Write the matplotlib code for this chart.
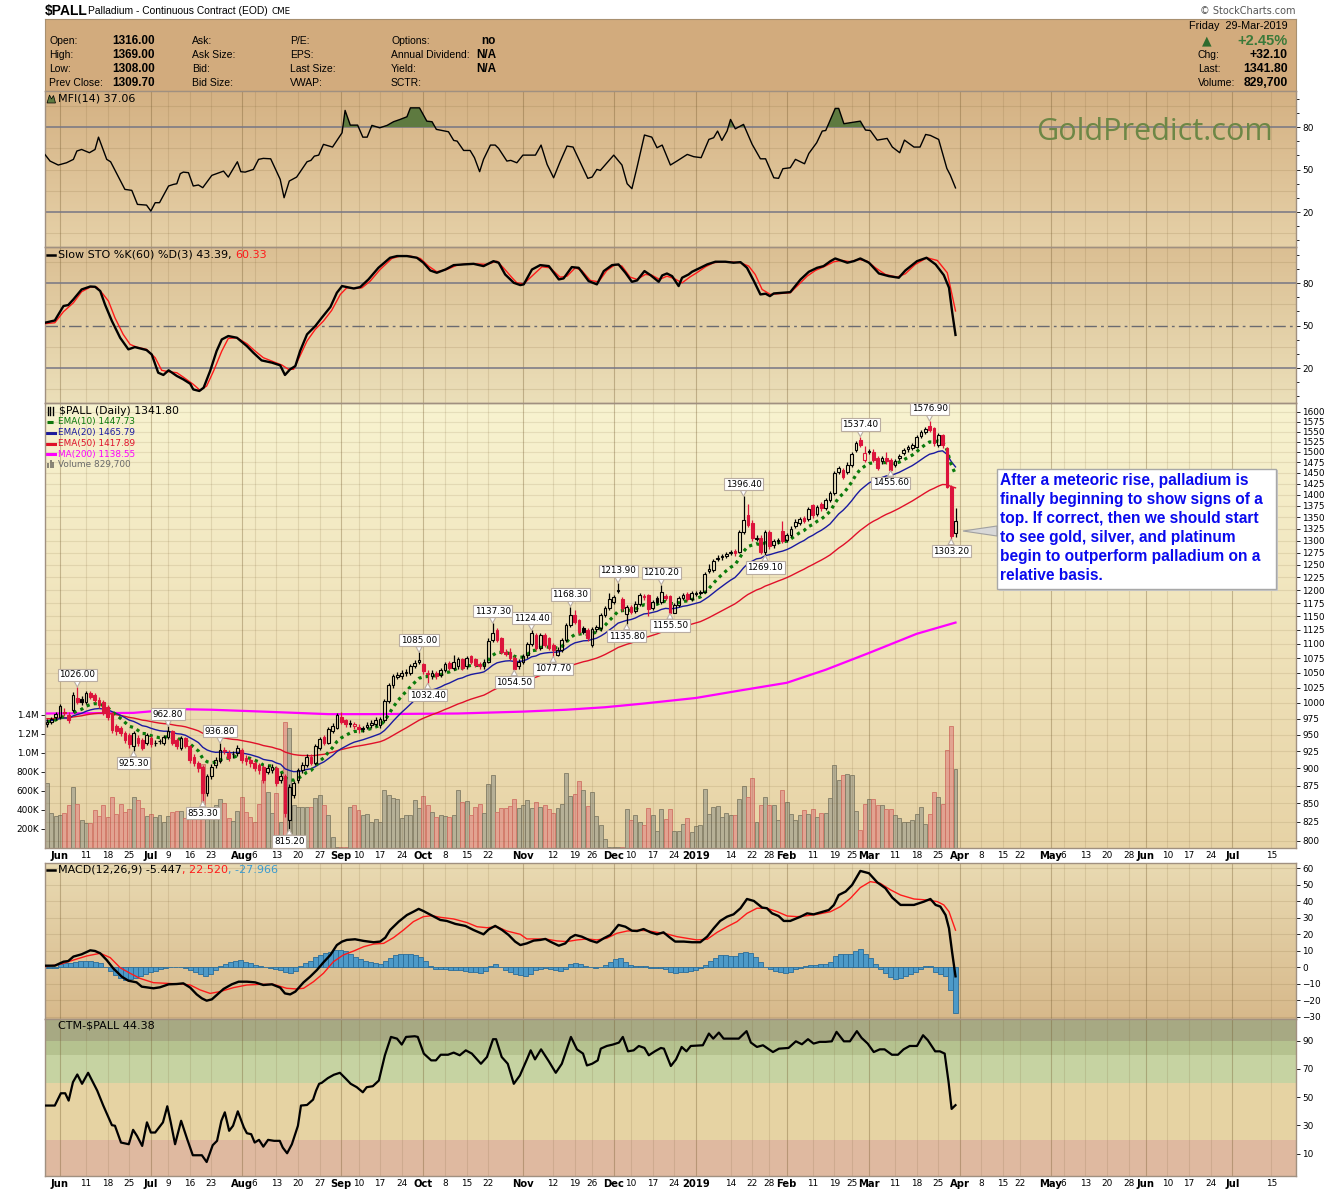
import numpy as np
import pandas as pd
import matplotlib
matplotlib.use("Agg")
import matplotlib.pyplot as plt
from matplotlib.lines import Line2D
from matplotlib.patches import Rectangle, Polygon
from matplotlib.colors import LinearSegmentedColormap

plt.rcParams["font.family"] = ["DejaVu Sans"]

W, H = 1340, 1192

# ---------------- data ----------------
holidays = ["2018-07-04", "2018-09-03", "2018-11-22", "2018-12-05", "2018-12-25",
            "2019-01-01", "2019-01-21", "2019-02-18", "2019-04-19", "2019-05-27",
            "2019-07-04"]

opens = [966, 970, 978, 978, 986, 981, 989, 1008, 1006, 1002,
         1016, 1013, 1005, 1002, 994, 984, 963, 960, 952, 950,
         932, 945, 942, 937, 945, 937, 940, 937, 947, 955,
         942, 930, 945, 932, 917, 907, 902, 864, 888, 905,
         910, 927, 922, 920, 922, 927, 915, 912, 907, 905,
         902, 895, 897, 900, 883, 888, 828, 862, 883, 897,
         905, 917, 908, 930, 946, 938, 956, 961, 978, 972,
         966, 963, 962, 961, 962, 965, 967, 965, 973, 1003,
         1029, 1043, 1044, 1049, 1050, 1062, 1068, 1064, 1050, 1044,
         1050, 1046, 1055, 1067, 1058, 1061, 1073, 1061, 1078, 1073,
         1065, 1061, 1069, 1107, 1125, 1110, 1086, 1086, 1075, 1061,
         1069, 1080, 1100, 1116, 1093, 1116, 1110, 1098, 1081, 1090,
         1107, 1134, 1152, 1143, 1129, 1125, 1098, 1127, 1128, 1152,
         1165, 1177, 1198, 1182, 1155, 1167, 1160, 1174, 1186, 1190,
         1166, 1184, 1177, 1188, 1188, 1157, 1171, 1184, 1192, 1182,
         1193, 1195, 1197, 1238, 1240, 1262, 1265, 1268, 1274, 1278,
         1277, 1318, 1354, 1338, 1303, 1306, 1277, 1318, 1291, 1298,
         1320, 1301, 1311, 1330, 1337, 1348, 1345, 1376, 1357, 1380,
         1369, 1388, 1403, 1453, 1457, 1453, 1469, 1505, 1529, 1481,
         1500, 1501, 1485, 1477, 1485, 1481, 1469, 1485, 1498, 1506,
         1510, 1513, 1539, 1550, 1563, 1558, 1517, 1541, 1509, 1418,
         1316]
highs = [975, 978, 986, 999, 992, 985, 1017, 1026, 1011, 1020,
         1019, 1016, 1009, 1005, 997, 986, 966, 963, 956, 953,
         955, 949, 945, 953, 948, 942, 944, 950, 962.8, 957,
         945, 948, 947, 934, 920, 910, 905, 892, 906, 916,
         936.8, 931, 926, 925, 934, 930, 919, 915, 911, 908,
         905, 904, 906, 903, 893, 891, 877, 882, 900, 909,
         921, 920, 935, 947, 950, 962, 968, 984, 985, 975,
         972, 970, 966, 964, 969, 972, 977, 978, 1006, 1033,
         1048, 1051, 1054, 1056, 1065, 1072, 1085, 1067, 1054, 1055,
         1053, 1058, 1069, 1070, 1080, 1077, 1076, 1079, 1081, 1076,
         1069, 1073, 1110, 1137.3, 1128, 1113, 1091, 1093, 1078, 1073,
         1082, 1104, 1124.4, 1119, 1120, 1119, 1113, 1102, 1094, 1111,
         1138, 1168.3, 1162, 1146, 1133, 1128, 1131, 1135, 1156, 1169,
         1195, 1190, 1213.9, 1186, 1171, 1171, 1178, 1194, 1193, 1193,
         1181, 1189, 1210.2, 1192, 1191, 1175, 1188, 1194, 1196, 1198,
         1199, 1201, 1235, 1251, 1262, 1269, 1272, 1277, 1281, 1283,
         1323, 1396.4, 1380, 1343, 1312, 1311, 1323, 1322, 1303, 1306,
         1342, 1316, 1330, 1345, 1350, 1353, 1372, 1380, 1377, 1384,
         1393, 1408, 1454, 1467, 1462, 1475, 1499, 1527, 1537.4, 1515,
         1508, 1506, 1490, 1490, 1500, 1485, 1482, 1494, 1510, 1518,
         1522, 1542, 1555, 1561, 1576.9, 1562, 1546, 1545, 1512, 1422,
         1369]
lows = [962, 966, 972, 975, 979, 968, 986, 998, 996, 999,
        1006, 1001, 992, 980, 973, 953, 950, 948, 938, 930,
        925.3, 932, 927, 934, 931, 933, 936, 934, 944, 934,
        928, 927, 929, 908, 903, 895, 853.3, 860, 884, 900,
        907, 920, 911, 915, 918, 908, 905, 902, 896, 892,
        879, 891, 893, 874, 879, 832, 815.2, 858, 879, 893,
        901, 904, 905, 926, 934, 935, 952, 958, 966, 962,
        962, 959, 953, 954, 958, 961, 963, 961, 970, 1000,
        1025, 1039, 1040, 1045, 1046, 1058, 1064, 1048, 1032.4, 1040,
        1040, 1042, 1051, 1054, 1054, 1057, 1054, 1057, 1065, 1059,
        1057, 1057, 1066, 1103, 1103, 1082, 1079, 1071, 1054.5, 1057,
        1065, 1076, 1096, 1089, 1090, 1094, 1089, 1077.7, 1079, 1086,
        1104, 1130, 1136, 1118, 1118, 1106, 1094, 1122, 1124, 1148,
        1161, 1173, 1194, 1160, 1135.8, 1154, 1156, 1170, 1181, 1150,
        1162, 1173, 1173, 1180, 1155.5, 1156, 1167, 1180, 1178, 1178,
        1189, 1191, 1194, 1233, 1236, 1257, 1260, 1263, 1269, 1268,
        1273, 1313, 1328, 1298, 1298, 1272, 1269.1, 1282, 1285, 1293,
        1294, 1297, 1307, 1326, 1333, 1337, 1341, 1349, 1352, 1364,
        1365, 1383, 1399, 1447, 1435, 1448, 1464, 1500, 1511, 1475,
        1494, 1476, 1456, 1471, 1472, 1455.6, 1464, 1480, 1493, 1501,
        1505, 1509, 1534, 1545, 1549, 1515, 1512, 1510, 1414, 1303.2,
        1308]
closes = [970, 974, 982, 995, 984, 973, 1013, 1002, 1002, 1016,
          1010, 1005, 997, 984, 978, 957, 955, 952, 942, 935,
          952, 937, 930, 950, 935, 938, 940, 947, 955, 937,
          932, 945, 932, 912, 907, 900, 864, 888, 902, 912,
          927, 925, 915, 920, 930, 912, 910, 907, 900, 897,
          883, 900, 902, 878, 888, 837, 873, 878, 897, 905,
          917, 908, 932, 943, 938, 958, 963, 980, 970, 966,
          968, 966, 958, 959, 965, 968, 973, 974, 1003, 1029,
          1044, 1046, 1050, 1051, 1061, 1067, 1072, 1053, 1047, 1050,
          1044, 1054, 1065, 1058, 1069, 1073, 1058, 1075, 1069, 1063,
          1061, 1069, 1106, 1119, 1107, 1086, 1083, 1075, 1057, 1069,
          1078, 1100, 1119, 1093, 1116, 1098, 1093, 1090, 1090, 1107,
          1134, 1152, 1140, 1122, 1122, 1110, 1127, 1131, 1152, 1165,
          1183, 1186, 1201, 1165, 1167, 1158, 1174, 1190, 1188, 1164,
          1177, 1177, 1197, 1184, 1157, 1171, 1184, 1190, 1182, 1194,
          1195, 1197, 1231, 1241, 1257, 1264, 1267, 1272, 1276, 1273,
          1318, 1344, 1333, 1305, 1306, 1277, 1318, 1288, 1298, 1301,
          1298, 1311, 1325, 1340, 1345, 1342, 1367, 1354, 1372, 1369,
          1388, 1403, 1449, 1461, 1441, 1469, 1494, 1521, 1517, 1498,
          1502, 1481, 1461, 1485, 1477, 1458, 1477, 1489, 1505, 1513,
          1517, 1537, 1550, 1556, 1554, 1521, 1541, 1517, 1418, 1309.7,
          1341.8]
volume_k = [688, 365, 337, 347, 365, 453, 639, 463, 295, 260,
            260, 400, 337, 453, 330, 540, 358, 460, 383, 407,
            534, 505, 418, 337, 358, 330, 347, 277, 337, 383,
            393, 393, 313, 365, 400, 383, 884, 400, 435, 453,
            513, 470, 313, 288, 393, 540, 383, 330, 277, 460,
            716, 593, 372, 576, 277, 1330, 1260, 453, 435, 435,
            428, 435, 523, 558, 453, 347, 119, 10, 12, 10,
            435, 453, 400, 347, 358, 277, 302, 270, 611, 555,
            523, 512, 312, 344, 344, 505, 418, 548, 453, 376,
            323, 344, 333, 323, 344, 607, 481, 495, 344, 428,
            460, 365, 670, 765, 376, 418, 418, 439, 512, 418,
            449, 502, 418, 481, 428, 449, 407, 365, 418, 460,
            786, 551, 565, 702, 607, 439, 586, 333, 239, 91,
            7, 7, 7, 7, 407, 295, 344, 270, 239, 418,
            344, 176, 407, 302, 407, 176, 176, 249, 312, 165,
            228, 239, 618, 355, 428, 439, 323, 365, 344, 344,
            512, 649, 534, 734, 270, 449, 534, 449, 449, 291,
            607, 481, 355, 291, 344, 397, 355, 407, 323, 365,
            365, 523, 870, 713, 765, 776, 765, 386, 186, 460,
            512, 512, 449, 449, 407, 407, 344, 312, 270, 270,
            291, 355, 428, 249, 355, 586, 534, 460, 1028, 1281,
            829.7]

# EMA starting values read at the left edge of the chart
ema_seed = {10: 970, 20: 972, 50: 975}

ma200_x = [0, 20, 30, 38, 50, 65, 75, 95, 110, 120, 129, 138, 150, 160, 171, 180, 190, 201, 210]
ma200_v = [983, 984, 990, 989, 986, 982, 982, 983, 986, 989, 993, 999, 1008, 1020, 1033,
           1055, 1084, 1118, 1138.55]

label_idx = [7, 20, 28, 36, 40, 56, 86, 88, 103, 108, 112, 117, 121, 132, 134, 142, 144,
             161, 166, 188, 195, 204, 209]
label_kind = "hlhlhlhlhlhlhhlhlhlhlhl"

mfi_x = [-0.5, 0.7, 2.6, 4.5, 6.1, 6.9, 8.0, 9.8, 11.1, 11.9,
         13.8, 14.7, 18.0, 19.6, 20.9, 23.0, 24.0, 25.0, 26.0, 28.1,
         29.2, 30.0, 30.8, 31.5, 32.7, 33.8, 35.0, 36.0, 38.1, 39.2,
         40.8, 41.9, 44.0, 44.8, 45.8, 47.7, 48.9, 50.0, 51.7, 53.9,
         54.8, 56.0, 57.7, 60.1, 61.0, 61.8, 62.8, 63.9, 66.0, 68.2,
         68.9, 70.1, 71.8, 73.0, 74.0, 75.1, 76.9, 78.6, 80.1, 81.6,
         83.2, 84.0, 86.1, 87.8, 89.0, 90.0, 91.3, 92.8, 94.0, 94.8,
         96.3, 97.8, 98.8, 100.0, 100.9, 102.5, 103.6, 104.4, 106.3, 107.2,
         108.6, 110.0, 111.7, 112.9, 114.2, 115.6, 117.1, 118.6, 120.2, 121.6,
         123.3, 125.0, 126.0, 127.1, 127.9, 131.0, 132.9, 134.1, 135.2, 136.4,
         138.1, 139.8, 141.0, 142.2, 144.1, 145.6, 148.0, 149.5, 151.2, 153.0,
         154.1, 155.0, 156.0, 157.2, 158.0, 159.1, 161.0, 163.0, 164.9, 166.1,
         168.0, 169.1, 170.1, 171.8, 173.0, 175.1, 176.1, 177.9, 179.2, 180.0,
         182.2, 183.0, 184.2, 188.0, 189.2, 190.3, 191.9, 194.2, 195.4, 197.1,
         198.2, 200.4, 201.8, 203.1, 204.2, 206.1, 208.0, 208.8, 210.0]
mfi_v = [60.7, 56.0, 53.2, 54.8, 57.2, 63.1, 64.2, 61.9, 64.2, 72.9,
         57.2, 55.5, 36.0, 35.3, 25.4, 24.9, 20.7, 26.6, 26.6, 38.4,
         39.5, 40.0, 47.1, 48.2, 47.8, 38.4, 39.1, 37.2, 45.9, 47.1,
         48.9, 44.7, 55.5, 48.5, 48.2, 50.1, 57.2, 57.9, 57.6, 43.1,
         30.1, 41.9, 44.7, 55.5, 56.5, 59.5, 60.2, 67.8, 65.9, 76.0,
         91.8, 81.4, 81.4, 72.9, 72.9, 81.2, 79.5, 81.2, 83.8, 85.4,
         87.3, 93.6, 93.6, 84.2, 83.8, 78.4, 77.6, 76.7, 70.6, 70.1,
         63.5, 63.5, 58.4, 48.5, 57.2, 67.3, 67.3, 64.9, 56.0, 56.5,
         54.8, 60.2, 60.2, 60.2, 67.3, 53.6, 44.2, 55.5, 66.6, 65.9,
         54.8, 43.8, 44.7, 50.1, 49.4, 60.2, 53.2, 40.0, 36.5, 51.8,
         74.4, 72.9, 65.4, 67.3, 53.2, 56.0, 60.7, 59.1, 58.4, 71.3,
         72.5, 77.2, 70.6, 77.2, 85.4, 78.8, 81.9, 67.8, 57.6, 57.6,
         44.2, 43.8, 50.6, 51.3, 57.2, 54.1, 61.4, 68.9, 77.2, 77.6,
         93.2, 93.2, 82.4, 84.2, 77.9, 77.6, 70.8, 72.0, 65.9, 61.9,
         70.8, 65.9, 65.9, 74.8, 74.1, 71.3, 50.8, 46.1, 37.06]

sto_k_x = [-0.5, 1.8, 3.8, 4.9, 6.1, 8.0, 10.0, 11.1, 12.3, 13.4,
           15.0, 16.9, 18.8, 20.3, 23.0, 24.2, 25.7, 26.9, 28.1, 30.0,
           31.5, 33.1, 33.8, 35.2, 36.2, 37.7, 39.2, 40.4, 41.9, 43.9,
           46.2, 47.7, 49.6, 52.0, 53.9, 55.0, 56.2, 57.4, 58.5, 60.1,
           62.0, 63.5, 65.5, 67.0, 68.2, 69.3, 70.9, 72.4, 74.3, 76.6,
           79.3, 80.9, 83.2, 85.5, 87.0, 88.6, 90.1, 92.1, 94.0, 96.3,
           98.6, 100.9, 103.2, 104.4, 105.9, 107.9, 109.4, 110.2, 112.1, 114.0,
           116.0, 118.3, 119.4, 121.3, 122.9, 125.2, 127.1, 128.7, 130.6, 132.1,
           133.7, 135.2, 136.4, 138.1, 139.5, 141.4, 142.2, 143.3, 144.5, 146.0,
           146.8, 148.3, 149.1, 151.0, 152.6, 154.5, 156.8, 158.7, 160.3, 161.8,
           163.4, 164.9, 166.1, 167.1, 168.0, 171.8, 174.2, 176.1, 178.0, 179.5,
           181.1, 182.2, 185.0, 186.5, 188.0, 190.0, 192.3, 194.6, 196.9, 198.4,
           201.1, 203.3, 205.4, 207.3, 208.5, 209.2, 210.0]
sto_k_v = [52.0, 53.6, 63.8, 64.5, 68.5, 75.5, 77.6, 77.4, 74.4, 64.9,
           53.2, 41.4, 33.2, 34.8, 32.7, 29.6, 16.7, 15.1, 18.4, 14.4,
           12.0, 8.9, 4.9, 3.8, 6.1, 17.9, 32.0, 40.2, 42.6, 41.4,
           35.5, 30.8, 25.4, 23.8, 21.9, 15.1, 19.1, 21.4, 32.0, 43.8,
           49.6, 55.5, 63.1, 73.2, 77.9, 77.2, 76.2, 77.2, 82.6, 90.8,
           97.9, 99.1, 99.1, 97.9, 94.4, 88.9, 87.3, 89.6, 92.7, 93.2,
           93.6, 92.0, 95.5, 94.4, 86.1, 80.2, 78.6, 79.1, 89.6, 92.7,
           92.0, 82.6, 83.3, 91.3, 90.8, 81.4, 79.1, 88.5, 92.7, 93.2,
           87.3, 80.9, 81.9, 88.5, 85.6, 80.9, 85.4, 86.8, 84.9, 77.9,
           83.8, 86.1, 88.0, 90.8, 93.2, 95.1, 95.1, 94.4, 94.8, 90.8,
           81.4, 72.0, 72.5, 70.8, 72.7, 73.6, 82.6, 88.0, 90.8, 92.0,
           95.5, 97.4, 94.4, 95.5, 97.4, 94.4, 86.8, 84.9, 83.8, 88.9,
           95.5, 97.9, 93.2, 85.6, 76.7, 60.2, 43.39]
sto_d_x = [-0.5, 1.8, 3.8, 6.1, 8.0, 10.0, 11.5, 13.0, 14.2, 15.7,
           17.6, 19.2, 20.7, 23.0, 25.0, 26.5, 28.1, 30.0, 31.5, 33.8,
           35.4, 36.9, 38.5, 40.4, 41.9, 43.9, 46.2, 48.1, 50.0, 52.3,
           54.3, 55.8, 57.0, 58.1, 60.1, 62.0, 63.9, 65.8, 67.8, 69.3,
           71.2, 72.8, 74.7, 77.0, 79.7, 81.6, 83.9, 86.3, 88.2, 90.1,
           92.4, 94.8, 97.1, 99.4, 101.7, 104.0, 105.5, 107.5, 108.6, 110.2,
           112.5, 114.4, 116.3, 118.6, 120.2, 122.1, 123.6, 125.6, 127.5, 129.4,
           131.4, 132.9, 134.8, 136.4, 138.3, 139.8, 141.6, 143.3, 144.9, 146.8,
           148.7, 150.2, 152.2, 154.1, 156.4, 158.7, 160.3, 162.2, 163.7, 165.3,
           167.2, 169.1, 171.8, 173.8, 175.7, 177.6, 179.9, 181.9, 183.8, 185.7,
           187.6, 189.6, 191.5, 193.8, 196.5, 198.4, 200.7, 203.4, 205.8, 208.1,
           210.0]
sto_d_v = [51.3, 52.0, 59.8, 66.1, 73.9, 77.2, 77.2, 72.0, 67.3, 55.5,
           43.8, 36.7, 34.8, 33.2, 27.3, 18.4, 17.4, 16.7, 13.6, 8.5,
           4.2, 7.3, 17.9, 32.0, 40.9, 41.4, 37.2, 32.0, 27.3, 24.5,
           22.1, 19.1, 19.1, 26.1, 39.1, 47.3, 53.2, 60.7, 72.0, 76.7,
           76.2, 76.7, 81.4, 89.6, 97.4, 99.1, 99.1, 97.4, 92.0, 88.0,
           89.6, 92.7, 93.6, 93.6, 93.2, 95.5, 90.8, 83.8, 80.2, 79.5,
           86.1, 91.5, 90.8, 84.2, 84.9, 90.8, 88.9, 81.9, 80.9, 88.9,
           93.2, 92.0, 84.2, 82.6, 86.1, 85.6, 82.6, 84.9, 83.3, 80.2,
           84.5, 87.3, 91.5, 94.4, 95.1, 94.8, 94.4, 92.0, 86.1, 75.5,
           72.0, 72.5, 73.2, 79.1, 84.9, 88.9, 92.0, 95.1, 96.0, 95.1,
           96.7, 95.5, 90.8, 86.1, 84.2, 86.6, 93.2, 97.9, 96.0, 87.3,
           60.33]

macd_x = [-0.5, 1.8, 3.8, 4.9, 6.1, 8.0, 10.0, 11.1, 12.3, 13.8,
          15.3, 17.3, 18.8, 20.7, 21.9, 24.6, 26.1, 28.1, 30.0, 31.5,
          33.1, 34.6, 35.8, 36.9, 38.1, 39.2, 40.8, 42.7, 44.3, 46.2,
          48.1, 50.0, 52.0, 53.9, 55.0, 56.2, 57.4, 59.3, 60.8, 62.4,
          63.9, 65.5, 67.0, 68.2, 69.3, 71.2, 73.2, 75.5, 77.0, 78.2,
          79.3, 81.3, 83.2, 84.7, 85.9, 87.0, 89.0, 90.9, 92.4, 94.4,
          96.7, 98.6, 100.9, 102.1, 103.6, 105.2, 106.7, 108.2, 109.4, 110.9,
          112.5, 114.0, 115.2, 116.3, 118.3, 119.8, 121.0, 122.1, 123.6, 125.6,
          127.1, 128.7, 130.2, 132.1, 133.7, 135.2, 136.4, 137.9, 139.5, 141.0,
          142.5, 143.7, 145.2, 147.2, 149.1, 151.0, 152.6, 154.1, 155.6, 157.2,
          158.7, 160.3, 161.8, 163.4, 165.3, 166.4, 167.6, 169.1, 170.3, 171.8,
          174.2, 175.7, 177.2, 178.8, 180.7, 181.9, 183.0, 184.6, 186.1, 188.0,
          190.0, 191.9, 193.8, 195.4, 197.3, 200.4, 202.7, 204.2, 205.4, 206.5,
          207.7, 208.5, 209.2, 210.0]
macd_v = [1.0, 1.0, 3.4, 3.8, 6.5, 7.9, 10.3, 9.9, 8.5, 4.4,
          -0.6, -5.7, -8.1, -9.1, -11.7, -12.7, -12.1, -10.3, -10.1, -9.7,
          -12.3, -16.4, -18.8, -20.2, -19.4, -16.8, -13.1, -10.3, -8.7, -8.7,
          -9.1, -10.7, -10.3, -12.3, -15.8, -16.4, -14.7, -9.1, -5.7, -1.6,
          3.0, 7.5, 13.5, 15.6, 16.6, 17.0, 16.0, 15.2, 15.6, 18.0,
          22.6, 27.7, 31.7, 33.7, 35.4, 34.1, 31.3, 28.7, 28.1, 26.3,
          25.1, 22.6, 20.0, 23.0, 25.1, 22.6, 19.6, 15.6, 13.5, 14.5,
          16.2, 16.6, 17.2, 15.6, 13.1, 14.5, 18.0, 19.6, 18.6, 16.2,
          15.0, 17.6, 19.6, 25.7, 24.6, 22.2, 22.0, 23.2, 21.2, 20.0,
          21.2, 18.6, 15.6, 15.6, 15.2, 15.2, 18.6, 23.6, 28.1, 30.7,
          32.1, 35.8, 41.4, 40.2, 36.2, 35.8, 32.7, 31.1, 28.1, 28.1,
          30.7, 32.7, 32.1, 33.3, 34.7, 37.8, 43.8, 45.9, 49.9, 58.4,
          57.0, 51.5, 47.9, 42.2, 37.8, 37.8, 39.8, 41.4, 37.8, 36.8,
          31.7, 23.6, 9.5, -5.447]
signal_x = [-0.5, 3.0, 6.1, 9.2, 12.3, 14.6, 16.9, 19.2, 21.5, 24.6,
            27.7, 30.8, 33.1, 35.4, 37.7, 40.0, 43.1, 46.2, 49.3, 52.3,
            55.4, 57.7, 59.3, 61.6, 63.9, 66.2, 68.5, 70.9, 73.2, 75.5,
            77.8, 80.1, 82.4, 84.7, 87.0, 89.0, 90.9, 94.0, 97.1, 99.4,
            101.7, 104.0, 106.3, 109.4, 110.9, 113.2, 115.6, 117.9, 120.2, 122.5,
            124.8, 127.1, 129.4, 131.7, 134.1, 136.4, 138.7, 141.0, 143.3, 145.6,
            147.9, 150.2, 152.6, 154.9, 157.2, 159.5, 161.8, 164.1, 166.4, 168.8,
            171.1, 173.4, 175.7, 178.0, 181.1, 183.4, 185.7, 188.0, 190.3, 192.6,
            195.0, 197.3, 200.4, 203.4, 205.8, 207.3, 208.5, 210.0]
signal_v = [0.4, 1.8, 4.4, 6.9, 8.5, 5.9, -0.2, -3.6, -6.7, -9.3,
            -9.7, -10.1, -10.7, -13.7, -15.8, -14.7, -12.3, -10.7, -10.3, -10.3,
            -12.7, -13.1, -12.7, -8.7, -3.6, 3.4, 7.5, 9.9, 12.5, 14.1,
            14.5, 18.0, 22.6, 27.7, 30.7, 31.3, 30.3, 29.3, 27.1, 24.6,
            24.0, 24.6, 22.0, 20.0, 17.2, 17.2, 17.0, 16.0, 15.6, 16.6,
            17.2, 16.6, 17.6, 20.6, 22.0, 22.4, 22.2, 21.2, 20.2, 18.6,
            17.6, 16.6, 17.0, 21.2, 24.6, 27.7, 32.7, 35.8, 35.8, 33.7,
            31.1, 30.7, 31.3, 32.1, 33.7, 36.8, 41.8, 48.3, 51.9, 50.9,
            46.9, 43.8, 41.4, 40.8, 39.8, 37.8, 33.7, 22.52]
# histogram read at even steps from the first to the last bar
hist_first, hist_last = -0.47, 210.1
hist_v = [-0.6, -0.6, -0.4, 1.8, 2.4, 2.6, 3.2, 3.8, 4.0, 3.8,
          3.4, 2.4, 0.0, -2.2, -4.6, -6.7, -7.7, -7.0, -6.3, -5.0,
          -4.0, -3.0, -2.0, -1.0, -0.4, 0.0, 0.2, 0.2, -0.6, -1.4,
          -2.6, -4.2, -5.3, -4.2, -1.6, 1.0, 2.2, 3.2, 3.8, 4.2,
          3.4, 2.4, 1.6, 0.8, 0.2, -0.2, -0.8, -1.6, -3.0, -3.4,
          -2.0, 0.8, 2.8, 4.0, 6.0, 7.4, 8.4, 9.2, 10.2, 10.5,
          9.6, 8.0, 6.4, 4.8, 3.6, 3.1, 2.6, 2.1, 3.6, 5.8,
          7.5, 8.2, 8.3, 8.1, 7.6, 6.2, 3.8, 0.6, -0.8, -1.1,
          -1.3, -1.6, -1.6, -1.9, -2.3, -2.6, -3.1, -3.2, -2.0, 1.0,
          1.8, 0.4, -1.4, -2.6, -4.0, -4.6,
          -5.0, -3.8, -1.6, -0.8, -0.3, -0.8, -1.8, -2.2, -1.0, 1.8,
          2.6, 1.8, 0.8, 0.0, -0.6, 0.2, 1.4, 3.0, 5.0, 5.8,
          3.2, 1.6, 0.6, 0.8, 0.8, -0.2, -0.6, -0.6, -1.2, -2.6,
          -3.2, -2.6, -2.6, -2.0, -1.4, -0.6, 1.6, 4.0, 5.8, 7.3,
          7.4, 6.9, 7.0, 8.5, 9.5, 8.8, 6.4, 3.0, 0.0, -1.0,
          -2.4, -2.8, -3.2, -2.6, -1.2, -0.2, 0.8, 1.6, 1.5, 1.8,
          2.2, 3.5, 6.8, 8.3, 7.9, 8.2, 9.6, 10.9, 8.0, 5.6,
          2.0, -1.2, -3.6, -5.6, -7.1, -6.4, -5.2, -4.2, -3.0, -0.8,
          1.0, 0.8, -2.8, -3.8, -5.2, -14.0, -27.966]

ctm_x = [-0.5, 1.8, 3.2, 4.2, 5.0, 6.0, 7.0, 8.1, 9.5, 11.6,
         13.0, 15.0, 15.7, 17.1, 18.9, 19.9, 20.8, 22.0, 23.1, 24.0,
         25.0, 26.8, 27.8, 28.6, 29.6, 31.0, 32.4, 33.7, 35.8, 36.9,
         38.3, 39.3, 40.3, 41.1, 42.1, 43.0, 44.1, 45.5, 46.2, 47.2,
         48.0, 49.0, 50.0, 51.1, 52.5, 53.8, 54.5, 55.5, 56.6, 58.0,
         58.7, 60.1, 61.5, 62.2, 62.9, 63.5, 64.9, 66.3, 67.7, 69.1,
         70.2, 71.6, 73.0, 73.9, 75.3, 76.7, 78.1, 79.5, 80.9, 82.0,
         83.0, 85.0, 85.7, 87.1, 88.8, 89.9, 91.0, 92.7, 94.0, 95.4,
         96.8, 98.2, 100.3, 101.7, 103.1, 103.8, 105.1, 106.5, 107.9, 109.3,
         111.0, 111.8, 112.8, 114.2, 116.0, 117.6, 119.0, 121.1, 122.5, 123.9,
         124.8, 126.0, 127.3, 128.0, 129.4, 130.8, 132.2, 133.1, 134.3, 135.6,
         136.8, 138.1, 139.1, 140.5, 141.9, 142.6, 144.2, 145.4, 146.7, 147.8,
         148.8, 151.6, 153.0, 154.0, 155.3, 156.4, 159.9, 161.7, 162.7, 164.1,
         165.5, 167.8, 169.2, 171.4, 173.1, 174.5, 175.9, 177.2, 178.6, 180.0,
         181.4, 182.5, 184.2, 185.6, 187.2, 188.3, 189.7, 191.1, 192.5, 193.6,
         195.3, 196.7, 198.0, 199.4, 201.1, 202.5, 203.6, 205.3, 206.4, 207.5,
         208.4, 209.1, 210.0]
ctm_v = [44.1, 44.1, 52.8, 52.8, 47.6, 60.7, 66.1, 59.5, 67.3, 54.7,
         44.1, 30.2, 29.8, 17.9, 16.7, 26.9, 22.6, 15.5, 32.2, 25.0,
         25.0, 32.2, 43.6, 32.2, 16.7, 33.3, 20.3, 8.9, 8.9, 4.1,
         16.0, 19.1, 33.3, 39.3, 26.2, 29.8, 40.0, 28.6, 24.5, 23.8,
         17.9, 19.8, 15.0, 19.8, 19.1, 19.1, 14.3, 10.3, 16.7, 29.8,
         44.1, 44.5, 48.3, 54.7, 59.5, 60.2, 63.5, 65.9, 67.3, 63.0,
         59.5, 57.1, 53.5, 57.1, 57.8, 61.8, 79.7, 92.7, 91.5, 87.3,
         92.7, 93.2, 92.7, 80.9, 76.1, 76.1, 80.1, 80.1, 81.6, 79.7,
         83.2, 80.9, 73.7, 78.5, 91.1, 91.1, 78.5, 73.7, 59.5, 65.4,
         77.3, 83.2, 76.8, 83.9, 75.4, 67.3, 73.7, 92.7, 83.9, 80.9,
         72.5, 73.7, 76.1, 84.4, 86.3, 87.3, 88.7, 92.7, 82.5, 83.2,
         86.3, 84.9, 79.7, 82.5, 84.9, 84.4, 72.1, 76.8, 85.6, 82.5,
         86.3, 86.8, 95.1, 91.5, 95.8, 91.5, 91.5, 96.8, 88.7, 85.6,
         86.8, 82.0, 84.4, 84.9, 89.6, 87.5, 91.1, 88.0, 89.2, 89.2,
         89.6, 96.3, 89.6, 89.6, 96.8, 92.0, 88.0, 82.0, 83.9, 83.9,
         80.1, 80.1, 83.9, 86.3, 86.3, 93.9, 90.4, 82.5, 82.5, 80.9,
         60.7, 41.7, 44.38]

tick_dates = ["2018-06-01", "2018-06-11", "2018-06-18", "2018-06-25", "2018-07-02", "2018-07-09",
              "2018-07-16", "2018-07-23", "2018-08-01", "2018-08-06", "2018-08-13", "2018-08-20",
              "2018-08-27", "2018-09-04", "2018-09-10", "2018-09-17", "2018-09-24", "2018-10-01",
              "2018-10-08", "2018-10-15", "2018-10-22", "2018-11-01", "2018-11-12", "2018-11-19",
              "2018-11-26", "2018-12-03", "2018-12-10", "2018-12-17", "2018-12-24", "2019-01-02",
              "2019-01-14", "2019-01-22", "2019-01-28", "2019-02-01", "2019-02-11", "2019-02-19",
              "2019-02-25", "2019-03-01", "2019-03-11", "2019-03-18", "2019-03-25", "2019-04-01",
              "2019-04-08", "2019-04-15", "2019-04-22", "2019-05-01", "2019-05-06", "2019-05-13",
              "2019-05-20", "2019-05-28", "2019-06-03", "2019-06-10", "2019-06-17", "2019-06-24",
              "2019-07-01", "2019-07-15"]
tick_text = ["Jun", "11", "18", "25", "Jul", "9", "16", "23", "Aug", "6", "13", "20", "27",
             "Sep", "10", "17", "24", "Oct", "8", "15", "22", "Nov", "12", "19", "26",
             "Dec", "10", "17", "24", "2019", "14", "22", "28", "Feb", "11", "19", "25",
             "Mar", "11", "18", "25", "Apr", "8", "15", "22", "May", "6", "13", "20", "28",
             "Jun", "10", "17", "24", "Jul", "15"]

note_lines = ["After a meteoric rise, palladium is",
              "finally beginning to show signs of a",
              "top. If correct, then we should start",
              "to see gold, silver, and platinum",
              "begin to outperform palladium on a",
              "relative basis."]

# ---------------- derived series ----------------
days = pd.bdate_range("2018-05-29", "2019-07-31")
days = days[~days.isin(pd.to_datetime(holidays))]
day_pos = {d: i for i, d in enumerate(days)}


def pos(s):
    return day_pos[pd.Timestamp(s)]


O, Hh, L, C = (np.array(a, float) for a in (opens, highs, lows, closes))
V = np.array(volume_k, float)
n = len(C)
xi = np.arange(n)


def ema(vals, span, seed):
    k = 2.0 / (span + 1)
    e, out = seed, []
    for v in vals:
        e = e + k * (v - e)
        out.append(e)
    return np.array(out)


ema10 = ema(C, 10, ema_seed[10])
ema20 = ema(C, 20, ema_seed[20])
ema50 = ema(C, 50, ema_seed[50])

# x range: Jun 1 sits at px 60, the last bar at px 955.5, axes from px 45 to 1296
i0, i1 = pos("2018-06-01"), n - 1
ppd = (955.5 - 60.0) / (i1 - i0)
XL = (i0 - (60 - 45) / ppd, i1 + (1296 - 955.5) / ppd)
tx = [pos(d) for d in tick_dates]
is_month = [not (t.isdigit() and len(t) <= 2) for t in tick_text]

# ---------------- figure ----------------
fig = plt.figure(figsize=(W / 100, H / 100), dpi=100)
fig.patch.set_facecolor("white")


def fx(x):
    return x / W


def fy(y):
    return 1 - y / H


def rect(top, bottom):
    return [45 / W, 1 - bottom / H, 1251 / W, (bottom - top) / H]


SPINE = "#a09080"
GRID = (0.45, 0.35, 0.18, 0.15)
GRID_M = (0.45, 0.35, 0.18, 0.36)
MAJOR = "#767684"
RED = "#dc143c"


def panel(top, bottom, c_top, c_bot, ylim, log=False, z=2):
    if c_top is not None:
        bg = fig.add_axes(rect(top, bottom), zorder=0)
        cmap = LinearSegmentedColormap.from_list("bg", [c_top, c_bot])
        bg.imshow(np.linspace(0, 1, 256).reshape(-1, 1), cmap=cmap, aspect="auto",
                  extent=(0, 1, 0, 1), origin="upper", interpolation="bilinear")
        bg.set_axis_off()
    ax = fig.add_axes(rect(top, bottom), zorder=z)
    ax.patch.set_visible(False)
    if log:
        ax.set_yscale("log")
    ax.set_xlim(*XL)
    ax.set_ylim(*ylim)
    for s in ax.spines.values():
        s.set_color(SPINE)
        s.set_linewidth(1)
    for x, m in zip(tx, is_month):
        ax.axvline(x, color=GRID_M if m else GRID, lw=0.8, zorder=0)
    ax.yaxis.tick_right()
    ax.tick_params(axis="y", which="both", labelsize=6.4, length=3, width=0.6, pad=1.5)
    ax.tick_params(axis="x", length=0, labelbottom=False)
    ax.set_xticks(tx)
    return ax


def label_dash(y, color, ls="-", lw=1.8):
    fig.add_artist(Line2D([fx(47), fx(55)], [fy(y), fy(y)], color=color, lw=lw, ls=ls))


# ---- title and header ----
fig.text(fx(45), fy(11), "$PALL", fontsize=10, fontweight="bold",
         family="Liberation Sans", va="center")
fig.text(fx(88), fy(11.5), "Palladium - Continuous Contract (EOD)", fontsize=7.4,
         family="Liberation Sans", va="center")
fig.text(fx(272), fy(11.5), "CME", fontsize=6.3, family="DejaVu Sans", va="center")
fig.text(fx(1295), fy(11.5), "\u00a9 StockCharts.com", fontsize=7, color="#555555",
         ha="right", va="center")

hdr = fig.add_axes(rect(19, 91))
hdr.set_facecolor("#d2ab7d")
hdr.set_xticks([])
hdr.set_yticks([])
for s in hdr.spines.values():
    s.set_color("#a89070")

rows_y = [41.5, 55.5, 69.5, 83.5]
head_cols = [(49, ["Open:", "High:", "Low:", "Prev Close:"]),
             (192, ["Ask:", "Ask Size:", "Bid:", "Bid Size:"]),
             (290, ["P/E:", "EPS:", "Last Size:", "VWAP:"]),
             (391, ["Options:", "Annual Dividend:", "Yield:", "SCTR:"])]
head_vals = [(155, ["1316.00", "1369.00", "1308.00", "1309.70"]),
             (496, ["no", "N/A", "N/A", ""])]
for x, labs in head_cols:
    for y, s in zip(rows_y, labs):
        fig.text(fx(x), fy(y), s, fontsize=7.5, family="Liberation Sans", va="center")
for x, vals in head_vals:
    for y, s in zip(rows_y, vals):
        fig.text(fx(x), fy(y), s, fontsize=8.5, fontweight="bold", family="Liberation Sans",
                 va="center", ha="right")

fig.text(fx(1288), fy(26), "Friday  29-Mar-2019", fontsize=7.8, family="Liberation Sans",
         ha="right", va="center")
fig.text(fx(1207), fy(41), "\u25b2", fontsize=9, color="#2e6b2e", ha="center", va="center")
fig.text(fx(1288), fy(41), "+2.45%", fontsize=10.5, fontweight="bold", color="#3a7a3a",
         family="Liberation Sans", ha="right", va="center")
for y, lab, val in zip([55.5, 69.5, 83.5], ["Chg:", "Last:", "Volume:"],
                       ["+32.10", "1341.80", "829,700"]):
    fig.text(fx(1198), fy(y), lab, fontsize=7.5, family="Liberation Sans", va="center")
    fig.text(fx(1288), fy(y), val, fontsize=8.8, fontweight="bold", family="Liberation Sans",
             ha="right", va="center")

# ---- MFI ----
ax1 = panel(91, 247, "#d4b183", "#e6d1a8", (-4.7, 105.5))
ax1.set_yticks([20, 50, 80])
ax1.set_yticks(np.arange(0, 101, 10), minor=True)
ax1.tick_params(axis="y", which="minor", length=2, labelright=False)
for v in (5, 35, 50, 65, 95):
    ax1.axhline(v, color=GRID, lw=0.8, zorder=0)
for v in (20, 80):
    ax1.axhline(v, color=MAJOR, lw=1.1, zorder=1)
mx, mv = np.array(mfi_x), np.array(mfi_v)
ax1.fill_between(mx, mv, 80, where=mv > 80, interpolate=True, color="#5e7a40", lw=0, zorder=2)
ax1.plot(mx, mv, color="black", lw=1.0, zorder=3)
fig.text(fx(1155), fy(132), "GoldPredict.com", fontsize=22, family="Open Sans",
         color="#6d8746", ha="center", va="center", zorder=10)
fig.add_artist(Polygon([(fx(47), fy(103)), (fx(49.5), fy(95)), (fx(51.5), fy(99)),
                        (fx(53.5), fy(95.5)), (fx(55.5), fy(103))],
                       closed=True, fc="#5e7a40", ec="black", lw=0.5))
fig.text(fx(58.5), fy(98.5), "MFI(14) 37.06", fontsize=8, va="center")

# ---- Slow stochastic ----
ax2 = panel(247, 403, "#dbbf93", "#ebdfb9", (-4.7, 105.5))
ax2.set_yticks([20, 50, 80])
ax2.set_yticks(np.arange(0, 101, 10), minor=True)
ax2.tick_params(axis="y", which="minor", length=2, labelright=False)
for v in (5, 35, 65, 95):
    ax2.axhline(v, color=GRID, lw=0.8, zorder=0)
for v in (20, 80):
    ax2.axhline(v, color=MAJOR, lw=1.1, zorder=1)
ax2.axhline(50, color="#6a6a70", lw=1, ls=(0, (9, 3, 2, 3)), zorder=1)
ax2.plot(sto_d_x, sto_d_v, color="#ff1a1a", lw=1.0, zorder=3)
ax2.plot(sto_k_x, sto_k_v, color="black", lw=1.7, zorder=4)
label_dash(254.5, "black")
t_sto = fig.text(fx(58.5), fy(254.5), "Slow STO %K(60) %D(3) 43.39, ", fontsize=8, va="center")
ax2.annotate("60.33", xy=(1, 0.5), xycoords=t_sto, va="center", ha="left", fontsize=8,
             color="#ff1a1a", annotation_clip=False)

# ---- price + volume ----
price_lim = (791.0, 1623.4)
axp = panel(403, 848, "#f8f3d0", "#e7d3a6", price_lim, log=True)
axv = fig.add_axes(rect(403, 848), zorder=1, sharex=axp)
axv.patch.set_visible(False)
axv.set_ylim(0, 4684)
for s in axv.spines.values():
    s.set_visible(False)
axv.yaxis.tick_left()
axv.set_yticks([200, 400, 600, 800, 1000, 1200, 1400],
               ["200K", "400K", "600K", "800K", "1.0M", "1.2M", "1.4M"])
axv.tick_params(axis="y", labelsize=6.4, length=3, width=0.6, pad=1.5)
axv.tick_params(axis="x", length=0, labelbottom=False)

prev_c = np.r_[C[0], C[:-1]]
up = C >= prev_c
vface = ["#b4ae96" if u else "#e2a190" for u in up]
vedge = ["#7d7862" if u else "#cf6f62" for u in up]
axv.bar(xi, V, width=0.92, color=vface, edgecolor=vedge, linewidth=0.6, alpha=0.95)

ticks_p = np.arange(800, 1601, 25)
axp.set_yticks(ticks_p, [str(v) for v in ticks_p])
axp.yaxis.set_minor_locator(matplotlib.ticker.NullLocator())
for v in ticks_p:
    axp.axhline(v, color=(0.45, 0.35, 0.18, 0.13), lw=0.8, zorder=0)

axp.plot(ma200_x, ma200_v, color="#ff00ff", lw=1.6, zorder=3)
axp.plot(xi, ema50, color="#e0102a", lw=1.0, zorder=3)
axp.plot(xi, ema20, color="#1a1aa0", lw=1.0, zorder=3)
axp.plot(xi, ema10, color="#0a7a0a", lw=2.3, ls=(0, (1.0, 1.3)), zorder=3)

col = ["black" if u else RED for u in up]
face = ["none" if c >= o else cc for c, o, cc in zip(C, O, col)]
top_b, bot_b = np.maximum(O, C), np.minimum(O, C)
axp.vlines(xi, top_b, Hh, colors=col, lw=0.9, zorder=4)
axp.vlines(xi, L, bot_b, colors=col, lw=0.9, zorder=4)
axp.bar(xi, np.maximum(top_b - bot_b, 0.8), bottom=bot_b, width=0.62, color=face,
        edgecolor=col, linewidth=0.8, zorder=5)

for i, k in zip(label_idx, label_kind):
    val = Hh[i] if k == "h" else L[i]
    axp.annotate(f"{val:.2f}", xy=(i, val), xytext=(0, 5.5 if k == "h" else -5.5),
                 textcoords="offset points", ha="center", va="bottom" if k == "h" else "top",
                 fontsize=6.3, zorder=7,
                 bbox=dict(boxstyle="square,pad=0.18", fc="white", ec="#b9ada2", lw=0.8),
                 arrowprops=dict(arrowstyle="wedge,tail_width=0.7,shrink_factor=0.5",
                                 fc="white", ec="#b9ada2", lw=0.8, shrinkA=0, shrinkB=0))

# legend block
for lx in (47.5, 50, 52.5):
    fig.add_artist(Line2D([fx(lx), fx(lx)], [fy(406.5), fy(414.5)], color="black", lw=1))
fig.text(fx(59), fy(410.7), "$PALL (Daily) 1341.80", fontsize=7.8, va="center")
legend_rows = [(421.7, "#0a7a0a", (0, (2, 1.5)), "EMA(10) 1447.73"),
               (432.7, "#1a1aa0", "-", "EMA(20) 1465.79"),
               (443.5, "#e0102a", "-", "EMA(50) 1417.89"),
               (454.5, "#ff00ff", "-", "MA(200) 1138.55")]
for y, c, ls, s in legend_rows:
    label_dash(y, c, ls=ls, lw=2.2)
    fig.text(fx(57.5), fy(y), s, fontsize=6.4, color=c, va="center")
for lx, h in ((48, 5), (50.5, 8), (53, 6)):
    fig.add_artist(Rectangle((fx(lx - 1), fy(468)), fx(2), h / H, fc="#8a8678", ec="none"))
fig.text(fx(57.5), fy(465), "Volume 829,700", fontsize=6.4, color="#6a6a6a", va="center")

# ---- MACD ----
ax4 = panel(863, 1019, "#e9dab2", "#d7b98b", (-31.3, 63.2))
ax4.set_yticks(np.arange(-30, 61, 10))
for v in np.arange(-30, 61, 10):
    ax4.axhline(v, color=GRID, lw=0.8, zorder=0)
hx = np.linspace(hist_first, hist_last, len(hist_v))
ax4.bar(hx, hist_v, width=hx[1] - hx[0], color="#4d9ac8", edgecolor="#2b6d99",
        linewidth=0.6, zorder=2)
ax4.plot(signal_x, signal_v, color="#ff1a1a", lw=1.0, zorder=3)
ax4.plot(macd_x, macd_v, color="black", lw=1.7, zorder=4)
label_dash(870, "black")
t_m1 = fig.text(fx(58.5), fy(870), "MACD(12,26,9) -5.447", fontsize=8, va="center")
t_m2 = ax4.annotate(", 22.520", xy=(1, 0.5), xycoords=t_m1, va="center", ha="left",
                    fontsize=8, color="#ff1a1a", annotation_clip=False)
ax4.annotate(", -27.966", xy=(1, 0.5), xycoords=t_m2, va="center", ha="left",
             fontsize=8, color="#3a9ad0", annotation_clip=False)

# ---- CTM ----
ax5 = panel(1019, 1176, None, None, (-5.8, 105.4))
bands = [(90, 110, "#a7a983"), (80, 90, "#b5c28f"), (60, 80, "#c6d3a2"),
         (20, 60, "#e6d3a3"), (-10, 20, "#dfb9a0")]
for lo, hi, c in bands:
    ax5.axhspan(lo, hi, color=c, zorder=-1, lw=0)
ax5.set_yticks([10, 30, 50, 70, 90])
ax5.plot(ctm_x, ctm_v, color="black", lw=1.6, zorder=4)
label_dash(1026, "black")
fig.text(fx(58.5), fy(1026), "CTM-$PALL 44.38", fontsize=8, va="center")

# date labels under the price panel and under the last panel
for ax in (axp, ax5):
    ax.set_xticks(tx, tick_text)
    ax.tick_params(axis="x", labelbottom=True, length=0, pad=2, labelsize=6.4)
    for lab, m in zip(ax.get_xticklabels(), is_month):
        if m:
            lab.set_fontweight("bold")
            lab.set_fontsize(7.2)

# ---- comment box ----
fig.add_artist(Rectangle((fx(999), fy(591)), fx(279) - fx(0), (591 - 470) / H,
                         fc="#c8c8c8", ec="none", zorder=8))
fig.add_artist(Rectangle((fx(996.5), fy(588.5)), fx(279.5) - fx(0), (588.5 - 468.5) / H,
                         fc="white", ec="#a8a8a8", lw=1, zorder=9))
fig.add_artist(Polygon([(fx(997), fy(526)), (fx(997), fy(536)), (fx(963), fy(531))],
                       closed=True, fc="#d8d8d8", ec="#a0a0a0", lw=0.8, zorder=9))
for k, s in enumerate(note_lines):
    fig.text(fx(999.5), fy(481 + 18.8 * k), s, fontsize=11.2, fontweight="bold",
             family="Liberation Sans", color="#0a0aee", va="center", zorder=10)

fig.savefig("out.png", dpi=100)
